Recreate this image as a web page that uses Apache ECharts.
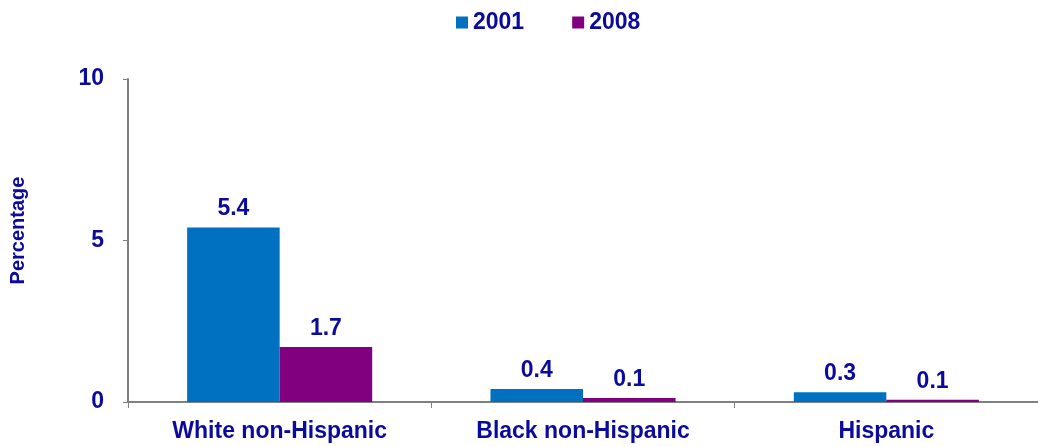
<!DOCTYPE html>
<html><head><meta charset="utf-8">
<script src="https://cdn.jsdelivr.net/npm/echarts@6/dist/echarts.min.js"></script>
<style>html,body{margin:0;padding:0;background:#fff}#c{width:1038px;height:447px}</style>
</head><body><div id="c"></div>
<script>
var categories = ['White non-Hispanic', 'Black non-Hispanic', 'Hispanic'];
var seriesNames = ['2001', '2008'];
var values2001 = [5.4, 0.4, 0.3];
var values2008 = [1.7, 0.12, 0.07];
var txt = '#0A0A9C';
var font = '"Liberation Sans", Arial, sans-serif';
var chart = echarts.init(document.getElementById('c'));
function lbl() {
  return {show: true, position: 'top', distance: 7, color: txt, fontFamily: font, fontWeight: 'bold', fontSize: 23,
    formatter: function (p) { return p.value.toFixed(1); }};
}
chart.setOption({
  animation: false,
  textStyle: {fontFamily: font},
  legend: {top: 6, left: 451, itemWidth: 12, itemHeight: 12, itemGap: 48, icon: 'rect',
    textStyle: {color: txt, fontWeight: 'bold', fontSize: 23, fontFamily: font}, data: seriesNames},
  grid: {left: 127, top: 79, width: 918, height: 323, containLabel: false},
  xAxis: {type: 'category', data: categories,
    axisLine: {lineStyle: {color: '#808080', width: 2}},
    axisTick: {show: true, length: 6, lineStyle: {color: '#808080'}},
    axisLabel: {color: txt, fontWeight: 'bold', fontSize: 23, fontFamily: font, margin: 18}},
  yAxis: {type: 'value', min: 0, max: 10, interval: 5,
    name: 'Percentage', nameLocation: 'middle', nameGap: 100, nameRotate: 90,
    nameTextStyle: {color: txt, fontWeight: 'bold', fontSize: 20, fontFamily: font, padding: [0, 0, 0, 20]},
    axisLine: {show: true, lineStyle: {color: '#808080', width: 2}},
    axisTick: {show: true, length: 5, lineStyle: {color: '#808080'}},
    splitLine: {show: false},
    axisLabel: {color: txt, fontWeight: 'bold', fontSize: 23, fontFamily: font, margin: 24}},
  series: [
    {name: seriesNames[0], type: 'bar', data: values2001, barGap: '0%', barCategoryGap: '39%',
      itemStyle: {color: '#0070C0'}, label: lbl()},
    {name: seriesNames[1], type: 'bar', data: values2008, barGap: '0%', barCategoryGap: '39%',
      itemStyle: {color: '#800080'}, label: lbl()}
  ]
});
</script></body></html>
